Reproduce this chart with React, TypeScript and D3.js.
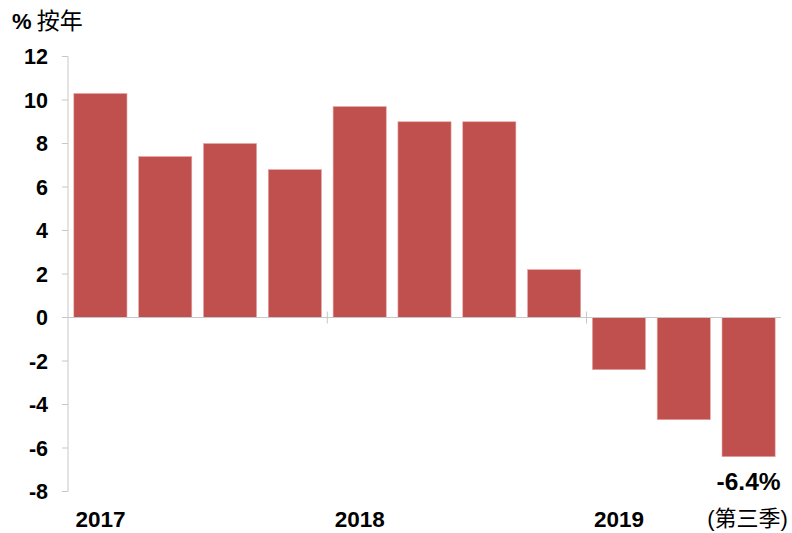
import * as d3 from "d3";

const quarters = ["2017Q1", "2017Q2", "2017Q3", "2017Q4", "2018Q1", "2018Q2", "2018Q3", "2018Q4", "2019Q1", "2019Q2", "2019Q3"];
const values = [10.3, 7.4, 8.0, 6.8, 9.7, 9.0, 9.0, 2.2, -2.4, -4.7, -6.4];
const yearLabels = [
  { q: "2017Q1", label: "2017" },
  { q: "2018Q1", label: "2018" },
  { q: "2019Q1", label: "2019" },
];
const yTicks = [12, 10, 8, 6, 4, 2, 0, -2, -4, -6, -8];

const width = 792;
const height = 533;
const margin = { top: 56.5, right: 11, bottom: 41.5, left: 68 };
const font = "'Liberation Sans', Arial, sans-serif";
const cjk = "'Noto Sans CJK SC', sans-serif";
const barColor = "#C0504D";
const axisColor = "#C8C8C8";

const App = () => {
  const x = d3
    .scaleBand<string>()
    .domain(quarters)
    .range([margin.left, width - margin.right])
    .paddingInner(0.18)
    .paddingOuter(0.09);

  const y = d3
    .scaleLinear()
    .domain([-8, 12])
    .range([height - margin.bottom, margin.top]);

  // year boundaries sit in the gap between Q4 and the next Q1
  const gap = x.step() - x.bandwidth();
  const boundaries = [4, 8].map((i) => x(quarters[i])! - gap / 2);

  const last = quarters[quarters.length - 1];
  const lastCenter = x(last)! + x.bandwidth() / 2;

  return (
    <div style={{ position: "fixed", left: 0, top: 0 }}>
      <svg width={width} height={height} style={{ display: "block", background: "#fff" }}>
        <text x={12} y={29} fontFamily={font} fontSize={22}>
          <tspan fontWeight="bold">%</tspan>
          <tspan fontFamily={cjk} fontSize={23}> 按年</tspan>
        </text>

        {/* y axis */}
        <line x1={margin.left} x2={margin.left} y1={y(12)} y2={y(-8)} stroke={axisColor} strokeWidth={1} />
        {yTicks.map((t) => (
          <g key={t}>
            <line x1={margin.left - 6} x2={margin.left} y1={y(t)} y2={y(t)} stroke={axisColor} />
            <text
              x={48}
              y={y(t)}
              dy="0.36em"
              textAnchor="end"
              fontFamily={font}
              fontWeight="bold"
              fontSize={21.5}
              fill="#000"
            >
              {t}
            </text>
          </g>
        ))}

        {/* bars */}
        {quarters.map((q, i) => {
          const v = values[i];
          return (
            <rect
              key={q}
              x={x(q)}
              width={x.bandwidth()}
              y={y(Math.max(0, v))}
              height={Math.abs(y(v) - y(0))}
              fill={barColor}
              stroke="#E8A8A6"
              strokeWidth={0.6}
            />
          );
        })}

        {/* zero line */}
        <line x1={margin.left} x2={width - margin.right} y1={y(0)} y2={y(0)} stroke={axisColor} />
        {boundaries.map((bx, i) => (
          <line key={i} x1={bx} x2={bx} y1={y(0) - 6} y2={y(0) + 6} stroke={axisColor} />
        ))}

        {yearLabels.map((d) => (
          <text
            key={d.label}
            x={x(d.q)! + x.bandwidth() / 2}
            y={527}
            textAnchor="middle"
            fontFamily={font}
            fontWeight="bold"
            fontSize={22.5}
          >
            {d.label}
          </text>
        ))}

        <text
          x={lastCenter}
          y={y(values[values.length - 1]) + 33}
          textAnchor="middle"
          fontFamily={font}
          fontWeight="bold"
          fontSize={24.5}
        >
          {`${values[values.length - 1]}%`}
        </text>
        <text x={lastCenter - 1} y={526} textAnchor="middle" fontFamily={font} fontSize={22}>
          (<tspan fontFamily={cjk}>第三季</tspan>)
        </text>
      </svg>
    </div>
  );
};

export default App;
